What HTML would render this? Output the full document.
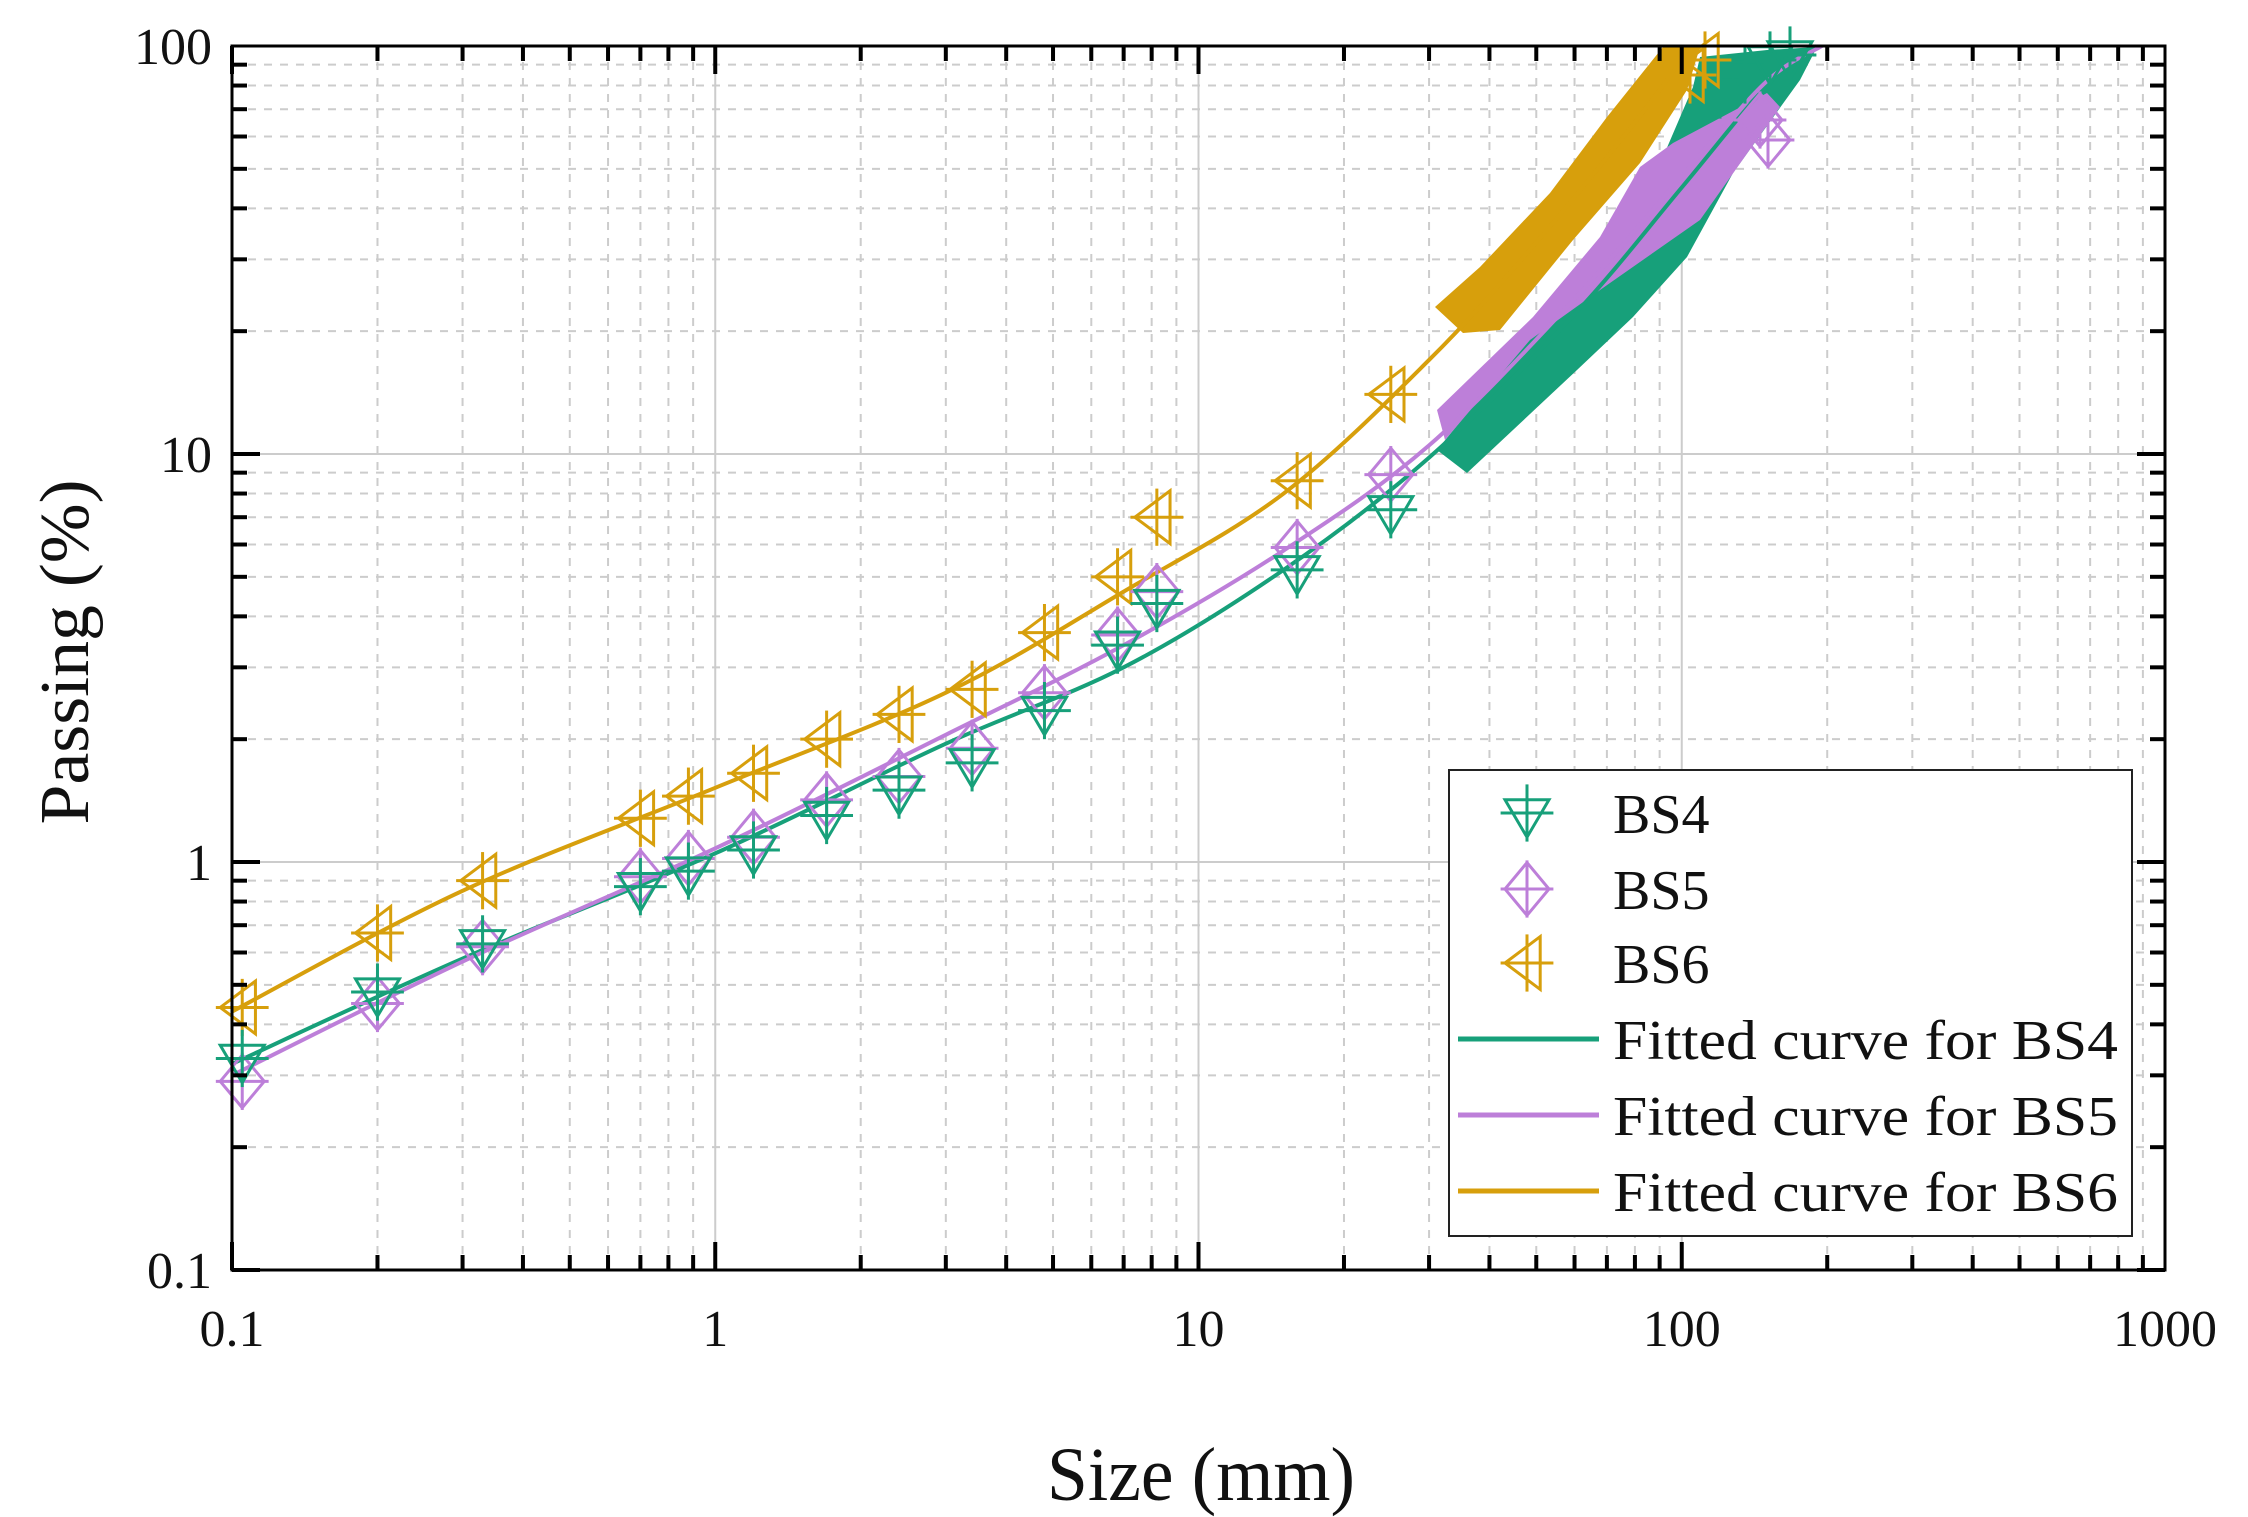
<!DOCTYPE html>
<html><head><meta charset="utf-8"><style>
html,body{margin:0;padding:0;background:#fff;}
svg{display:block;}
text{font-family:"Liberation Serif",serif;fill:#111;}
</style></head><body>
<svg id="s" width="2248" height="1517" viewBox="0 0 2248 1517" xmlns="http://www.w3.org/2000/svg">
<rect width="2248" height="1517" fill="#fff"/>
<g id="grid"></g>
<g id="bands"></g>
<g id="curves"></g>
<g id="marks"></g>
<g id="axes"></g>
<rect x="1449" y="770" width="683" height="466" fill="#fff" stroke="#222" stroke-width="2"/>
<g id="legend"></g>
<text x="1201" y="1500" font-size="66" text-anchor="middle" transform="translate(1201,1500) scale(1,1.15) translate(-1201,-1500)" textLength="308" lengthAdjust="spacingAndGlyphs">Size (mm)</text>
<text transform="translate(88,652) rotate(-90) scale(1.15,1.1)" font-size="64" text-anchor="middle" textLength="300" lengthAdjust="spacingAndGlyphs">Passing (%)</text>
</svg>
<script>
const L=232,R=2165,T=46,B=1270;
const X=v=>L+(Math.log10(v)+1)*(R-L)/4;
const Y=v=>B-(Math.log10(v)+1)*(B-T)/3;
const ns="http://www.w3.org/2000/svg";
function el(p,tag,a,txt){const e=document.createElementNS(ns,tag);for(const k in a)e.setAttribute(k,a[k]);if(txt!==undefined)e.textContent=txt;document.getElementById(p).appendChild(e);return e;}
for(let d=-1;d<3;d++)for(let m=1;m<10;m++){const v=m*Math.pow(10,d);const x=X(v);
 if(m==1){el('grid','line',{x1:x,y1:T,x2:x,y2:B,stroke:'#ccc','stroke-width':2});}
 else el('grid','line',{x1:x,y1:T,x2:x,y2:B,stroke:'#ccc','stroke-width':2,'stroke-dasharray':'8 8'});
 el('axes','line',{x1:x,y1:B,x2:x,y2:B-(m==1?28:15),stroke:'#000','stroke-width':4});
 el('axes','line',{x1:x,y1:T,x2:x,y2:T+(m==1?28:15),stroke:'#000','stroke-width':4});}
for(let d=-1;d<2;d++)for(let m=1;m<10;m++){const v=m*Math.pow(10,d);const y=Y(v);
 if(m==1)el('grid','line',{x1:L,y1:y,x2:R,y2:y,stroke:'#ccc','stroke-width':2});
 else el('grid','line',{x1:L,y1:y,x2:R,y2:y,stroke:'#ccc','stroke-width':2,'stroke-dasharray':'8 8'});
 el('axes','line',{x1:L,y1:y,x2:L+(m==1?28:15),y2:y,stroke:'#000','stroke-width':4});
 el('axes','line',{x1:R,y1:y,x2:R-(m==1?28:15),y2:y,stroke:'#000','stroke-width':4});}
el('axes','rect',{x:L,y:T,width:R-L,height:B-T,fill:'none',stroke:'#000','stroke-width':3});
[['0.1',0.1],['1',1],['10',10],['100',100],['1000',1000]].forEach(([t,v])=>el('axes','text',{x:X(v),y:1346,'font-size':52,'text-anchor':'middle'},t));
[['0.1',0.1],['1',1],['10',10],['100',100]].forEach(([t,v])=>el('axes','text',{x:212,y:Y(v)+18,'font-size':52,'text-anchor':'end'},t));
const G='#17a07a',P='#bd7fd9',O='#d79f0c';
function poly(pts,col){el('bands','polygon',{points:pts.map(p=>p.join(',')).join(' '),fill:col});}
poly([[1437,450],[1533,333],[1633,227],[1693,87],[1700,57],[1767,50],[1817,47],[1800,80],[1733,173],[1687,257],[1633,317],[1577,370],[1467,473]],G);
poly([[1437,410],[1533,317],[1600,237],[1640,167],[1673,143],[1767,93],[1780,107],[1700,220],[1600,290],[1530,340],[1445,440]],P);
poly([[1435,307],[1480,267],[1550,193],[1607,117],[1663,47],[1700,47],[1687,90],[1640,163],[1573,240],[1500,330],[1463,333]],O);
function curve(k,col){const p=k.map(([a,b])=>[X(a),Y(b)]);let d='M'+p[0];for(let i=0;i<p.length-1;i++){const p0=p[i-1]||p[i],p1=p[i],p2=p[i+1],p3=p[i+2]||p2;
 d+=' C'+(p1[0]+(p2[0]-p0[0])/6)+','+(p1[1]+(p2[1]-p0[1])/6)+' '+(p2[0]-(p3[0]-p1[0])/6)+','+(p2[1]-(p3[1]-p1[1])/6)+' '+p2[0]+','+p2[1];}
 el('curves','path',{d:d,fill:'none',stroke:col,'stroke-width':4});}
curve([[0.1,0.32],[0.3,0.58],[1,1.05],[3,1.95],[7,3.0],[15,5.2],[30,9.8],[60,22],[100,45],[150,80],[190,100]],G);
curve([[0.1,0.3],[0.3,0.57],[1,1.08],[3,2.05],[7,3.4],[15,5.8],[30,10.5],[60,24],[100,48],[150,82],[195,100]],P);
curve([[0.1,0.43],[0.3,0.85],[1,1.52],[3,2.6],[7,4.6],[15,8.0],[30,17],[50,33],[80,65],[105,100]],O);
function mk(g,type,x,y,col){const s=22,w=3;
 if(type=='v')el(g,'polygon',{points:`${x-s},${y-s*0.6} ${x+s},${y-s*0.6} ${x},${y+s*1.1}`,fill:'none',stroke:col,'stroke-width':w});
 if(type=='d')el(g,'polygon',{points:`${x},${y-s*1.2} ${x+s},${y} ${x},${y+s*1.2} ${x-s},${y}`,fill:'none',stroke:col,'stroke-width':w});
 if(type=='l')el(g,'polygon',{points:`${x-s},${y} ${x+s*0.6},${y-s*1.2} ${x+s*0.6},${y+s*1.2}`,fill:'none',stroke:col,'stroke-width':w});
 el(g,'line',{x1:x-s*1.2,y1:y,x2:x+s*1.2,y2:y,stroke:col,'stroke-width':w});
 el(g,'line',{x1:x,y1:y-s*1.3,x2:x,y2:y+s*1.3,stroke:col,'stroke-width':w});}
const xs=[0.105,0.2,0.33,0.7,0.88,1.2,1.7,2.4,3.4,4.8,6.8,8.2,16,25];
const b4=[0.33,0.48,0.63,0.87,0.95,1.07,1.3,1.5,1.75,2.35,3.4,4.3,5.2,7.3];
const b5=[0.29,0.45,0.62,0.92,1.02,1.15,1.42,1.62,1.9,2.6,3.6,4.6,5.9,8.9];
const b6=[0.44,0.67,0.9,1.28,1.45,1.65,2.0,2.3,2.65,3.65,5.0,7.0,8.6,14];
xs.forEach((x,i)=>{mk('marks','l',X(x),Y(b6[i]),O);mk('marks','d',X(x),Y(b5[i]),P);mk('marks','v',X(x),Y(b4[i]),G);});
[[1720,90],[1745,75],[1770,60],[1790,55]].forEach(p=>mk('marks','v',p[0],p[1],G));
[[1760,120],[1768,140]].forEach(p=>mk('marks','d',p[0],p[1],P));
[[1705,60],[1690,75]].forEach(p=>mk('marks','l',p[0],p[1],O));
mk('legend','v',1527,813,G);mk('legend','d',1527,889,P);mk('legend','l',1527,963,O);
[['BS4',813],['BS5',889],['BS6',963]].forEach(([t,y])=>el('legend','text',{x:1613,y:y+20,'font-size':56},t));
[[G,1039,'BS4'],[P,1115,'BS5'],[O,1191,'BS6']].forEach(([c,y,t])=>{el('legend','line',{x1:1458,y1:y,x2:1599,y2:y,stroke:c,'stroke-width':5});
 el('legend','text',{x:1613,y:y+20,'font-size':56,textLength:505,lengthAdjust:'spacingAndGlyphs'},'Fitted curve for '+t);});
</script>
</body></html>
